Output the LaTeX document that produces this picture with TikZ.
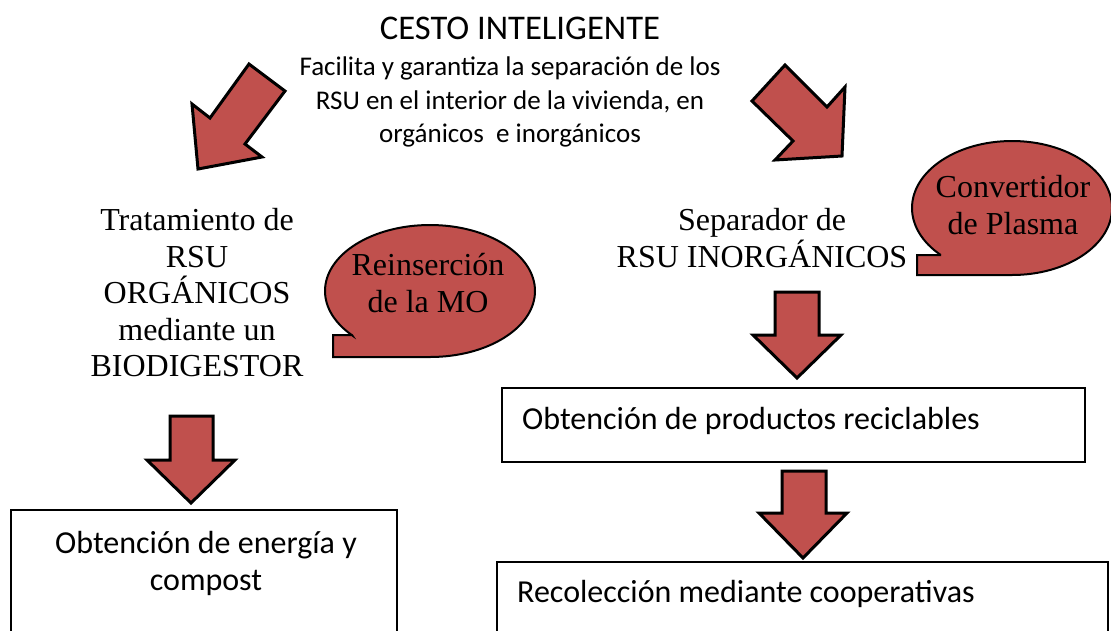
\documentclass[tikz,border=0pt]{standalone}
\usepackage{fontspec}
\setmainfont{Liberation Serif}
\newfontfamily\calibri{Carlito}
\definecolor{arrowred}{HTML}{C0504D}
\def\SerifSize{\fontsize{32}{36.5}\selectfont}
\def\BoxSize{\calibri\fontsize{32}{37}\selectfont}

\begin{document}
\begin{tikzpicture}[x=1pt,y=-1pt,
  blockarrow/.style={fill=arrowred,draw=black,line width=3,line join=miter},
  bubble/.style={fill=arrowred,draw=black,line width=2},
  box/.style={draw=black,line width=1.5},
  serif/.style={inner sep=0,align=center,font=\SerifSize},
  boxtext/.style={inner sep=0,align=center,font=\BoxSize}]
\useasboundingbox (0,0) rectangle (1111,630);
\clip (0,0) rectangle (1111,630);

\node[inner sep=0,font=\calibri\fontsize{34.6}{40}\selectfont] (cesto) at (520,28) {CESTO INTELIGENTE};
\node[inner sep=0,align=center,font=\calibri\fontsize{27}{33.5}\selectfont] (facilita) at (510,102)
  {Facilita y garantiza la separación de los\\RSU en el interior de la vivienda, en\\orgánicos \ e inorgánicos};

% diagonal arrows
\filldraw[blockarrow] (249,64) -- (285,91) -- (245,144) -- (262,157) -- (198,169) -- (192,104) -- (210,118) -- cycle;
\filldraw[blockarrow] (785,65) -- (827,107) -- (845,87) -- (842,156) -- (775,160) -- (793,141) -- (752,101) -- cycle;

\node[serif] (tratamiento) at (197,293) {Tratamiento de\\RSU\\ORGÁNICOS\\mediante un\\BIODIGESTOR};
\node[serif] (separador) at (762,238) {Separador de\\RSU INORGÁNICOS};

% callouts
\filldraw[bubble] (352,335) -- (333,335) -- (333,357) -- (430,357)
  arc[start angle=90,end angle=-222.2,x radius=105,y radius=66] -- cycle;
\node[serif] (reinsercion) at (428,283) {Reinserción\\de la MO};
\filldraw[bubble] (941,255) -- (917,255) -- (917,275) -- (1012,275)
  arc[start angle=90,end angle=-224.5,x radius=100,y radius=67] -- cycle;
\node[serif] (convertidor) at (1013,205) {Convertidor\\de Plasma};

% down arrows
\filldraw[blockarrow] (170,416) -- (213,416) -- (213,460) -- (235,460) -- (191,503) -- (147,460) -- (170,460) -- cycle;
\filldraw[blockarrow] (775,292) -- (819,292) -- (819,335) -- (841,335) -- (797,378) -- (753,335) -- (775,335) -- cycle;
\filldraw[blockarrow] (782,471) -- (826,471) -- (826,513) -- (847,513) -- (803,558) -- (759,513) -- (782,513) -- cycle;

% boxes
\draw[box] (11,510) rectangle (397,640);
\node[boxtext] (energia) at (206,563) {Obtención de energía y\\compost};
\draw[box] (502,388) rectangle (1085,462);
\node[boxtext,anchor=west] (reciclables) at (522,421) {Obtención de productos reciclables};
\draw[box] (497,562) rectangle (1108,640);
\node[boxtext,anchor=west] (recoleccion) at (517,594) {Recolección mediante cooperativas};
\end{tikzpicture}
\end{document}
